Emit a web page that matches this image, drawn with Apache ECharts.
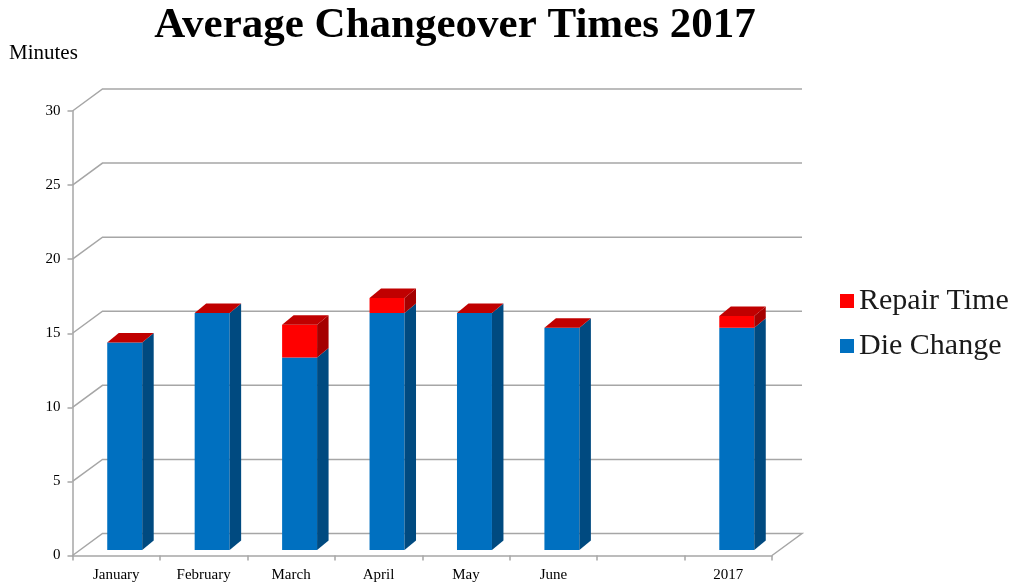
<!DOCTYPE html>
<html>
<head>
<meta charset="utf-8">
<script src="https://cdn.jsdelivr.net/npm/echarts@6/dist/echarts.min.js"></script>
<style>
  html, body { margin: 0; padding: 0; background: #ffffff; }
  #chart { width: 1014px; height: 588px; }
</style>
</head>
<body>
<div id="chart"></div>
<script>
// Average changeover minutes per month, split into die change and repair time
const categories = ['January', 'February', 'March', 'April', 'May', 'June', '', '2017'];
const dieChange  = [14, 16, 13, 16, 16, 15, null, 15];
const repairTime = [0, 0, 2.2, 1.0, 0, 0, null, 0.8];
const yTicks     = [0, 5, 10, 15, 20, 25, 30];

const SERIF = '"Liberation Serif", "Times New Roman", Times, serif';

// 3D look: back wall depth and the bar prism geometry (pixels)
const WALL_DX = 30, WALL_DY = -22;
const BAR_DX = 8.5, BAR_DY = -5.5;
const DEPTH_X = 11.5, DEPTH_Y = -9.5;
const BAR_RATIO = 0.4;
const GRID_COLOR = '#A6A6A6';

const BLUE = { front: '#0070C0', side: '#004A80', top: '#C00000' };
const RED  = { front: '#FF0000', side: '#A50000', top: '#C00000' };

// Left wall + back wall gridline for one tick value
function renderWall(params, api) {
  const cs = params.coordSys;
  const v = api.value(1);
  const y = api.coord([0, v])[1];
  const x0 = cs.x, x1 = cs.x + cs.width;
  const pts = [[x0, y], [x0 + WALL_DX, y + WALL_DY], [x1 + WALL_DX, y + WALL_DY]];
  if (v === 0) pts.push([x1, y]);
  return {
    type: 'polyline',
    shape: { points: pts },
    style: { stroke: GRID_COLOR, lineWidth: 1.5, fill: null }
  };
}

// One block of a stacked bar drawn as a prism (front, right side, optional top)
function prism(api, idx, lo, hi, colors, withTop) {
  const c0 = api.coord([idx, lo]);
  const c1 = api.coord([idx, hi]);
  const w = api.size([1, 0])[0] * BAR_RATIO;
  const xl = c0[0] - w / 2 + BAR_DX;
  const xr = xl + w;
  const yb = c0[1] + BAR_DY;
  const yt = c1[1] + BAR_DY;
  const children = [
    { type: 'rect', shape: { x: xl, y: yt, width: w, height: yb - yt }, style: { fill: colors.front } },
    { type: 'polygon',
      shape: { points: [[xr, yb], [xr + DEPTH_X, yb + DEPTH_Y], [xr + DEPTH_X, yt + DEPTH_Y], [xr, yt]] },
      style: { fill: colors.side } }
  ];
  if (withTop) {
    children.push({ type: 'polygon',
      shape: { points: [[xl, yt], [xl + DEPTH_X, yt + DEPTH_Y], [xr + DEPTH_X, yt + DEPTH_Y], [xr, yt]] },
      style: { fill: colors.top } });
  }
  return { type: 'group', children: children };
}

function renderDie(params, api) {
  const v = api.value(1);
  if (v == null || isNaN(v)) return null;
  return prism(api, api.value(0), 0, v, BLUE, false);
}

function renderRepair(params, api) {
  const r = api.value(1);
  const base = api.value(2);
  if (r == null || isNaN(r) || base == null || isNaN(base)) return null;
  return prism(api, api.value(0), base, base + r, RED, true);
}

const dieData = categories.map((c, i) => [i, dieChange[i]]);
const repairData = categories.map((c, i) => [i, repairTime[i], dieChange[i]]);
const wallData = yTicks.map(v => [0, v]);

const chart = echarts.init(document.getElementById('chart'));
chart.setOption({
  animation: false,
  backgroundColor: '#ffffff',
  graphic: [
    { type: 'text', x: 455, y: 26,
      style: { text: 'Average Changeover Times 2017', fontFamily: SERIF, fontSize: 43, fontWeight: 'bold',
               fill: '#000000', textAlign: 'center', textVerticalAlign: 'middle' } },
    { type: 'text', x: 9, y: 53,
      style: { text: 'Minutes', fontFamily: SERIF, fontSize: 21, fill: '#000000',
               textAlign: 'left', textVerticalAlign: 'middle' } }
  ],
  legend: {
    orient: 'vertical',
    left: 835,
    top: 281,
    itemWidth: 14,
    itemHeight: 14,
    itemGap: 15,
    icon: 'rect',
    selectedMode: false,
    data: ['Repair Time', 'Die Change'],
    textStyle: { fontFamily: SERIF, fontSize: 30, color: '#1a1a1a' }
  },
  grid: { left: 72.5, right: 242, top: 111, bottom: 32.5, containLabel: false },
  xAxis: {
    type: 'category',
    data: categories,
    boundaryGap: true,
    axisLine: { lineStyle: { color: GRID_COLOR, width: 1.5 } },
    axisTick: { show: true, length: 5, lineStyle: { color: GRID_COLOR, width: 1.5 } },
    axisLabel: { interval: 0, margin: 12, fontFamily: SERIF, fontSize: 15, color: '#000000' },
    splitLine: { show: false }
  },
  yAxis: {
    type: 'value',
    min: 0,
    max: 30,
    interval: 5,
    axisLine: { show: true, lineStyle: { color: GRID_COLOR, width: 1.5 } },
    axisTick: { show: true, length: 5, lineStyle: { color: GRID_COLOR, width: 1.5 } },
    axisLabel: { margin: 12, fontFamily: SERIF, fontSize: 15, color: '#000000' },
    splitLine: { show: false }
  },
  series: [
    { type: 'custom', name: 'wall', renderItem: renderWall, data: wallData, z: 1,
      encode: { x: 0, y: 1 }, silent: true, legendHoverLink: false },
    { type: 'custom', name: 'Die Change', renderItem: renderDie, data: dieData, z: 2,
      encode: { x: 0, y: 1 }, itemStyle: { color: '#0070C0' } },
    { type: 'custom', name: 'Repair Time', renderItem: renderRepair, data: repairData, z: 3,
      encode: { x: 0, y: 1 }, itemStyle: { color: '#FF0000' } }
  ]
});
</script>
</body>
</html>
